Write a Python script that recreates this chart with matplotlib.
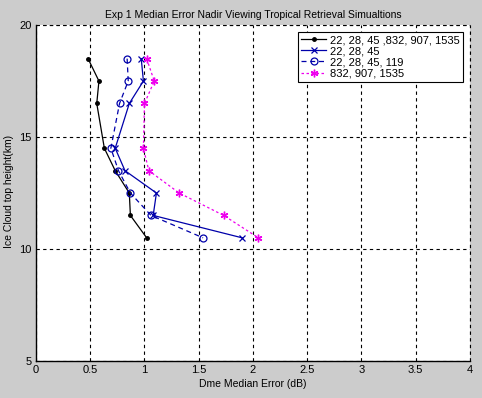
import matplotlib
matplotlib.use("Agg")
import matplotlib.pyplot as plt

plt.rcParams['font.family'] = ['Liberation Sans', 'DejaVu Sans']

# cloud top heights (km)
heights = [18.5, 17.5, 16.5, 14.5, 13.5, 12.5, 11.5, 10.5]

# Dme median error (dB) per channel set
err_all = [0.48, 0.58, 0.56, 0.63, 0.73, 0.86, 0.87, 1.02]
err_low = [0.97, 0.99, 0.86, 0.73, 0.82, 1.11, 1.08, 1.90]
err_low119 = [0.84, 0.85, 0.77, 0.69, 0.76, 0.87, 1.06, 1.54]
err_high = [1.02, 1.09, 1.00, 0.99, 1.04, 1.32, 1.73, 2.05]

labels = ['22, 28, 45 ,832, 907, 1535', '22, 28, 45', '22, 28, 45, 119', '832, 907, 1535']
x_ticks = [0, 0.5, 1, 1.5, 2, 2.5, 3, 3.5, 4]
x_ticklabels = ['0', '0.5', '1', '1.5', '2', '2.5', '3', '3.5', '4']
y_ticks = [5, 10, 15, 20]

bg = '#cccccc'
fig = plt.figure(figsize=(4.82, 3.98), dpi=100, facecolor=bg)
ax = fig.add_axes([0.0747, 0.093, 0.9003, 0.844])
ax.set_facecolor('white')

ax.plot(err_all, heights, color='black', linestyle='-', linewidth=0.9,
        marker='.', markersize=5, label=labels[0])
ax.plot(err_low, heights, color='#0000aa', linestyle='-', linewidth=0.9,
        marker='x', markersize=4.5, markeredgewidth=0.9, label=labels[1])
ax.plot(err_low119, heights, color='#0000aa', linestyle=(0, (4, 3)), linewidth=0.9,
        marker='o', markersize=5, markerfacecolor='none', markeredgewidth=0.9, label=labels[2])
ax.plot(err_high, heights, color='#ee00ee', linestyle=(0, (2, 2)), linewidth=0.9,
        marker=(6, 2, 0), markersize=5.5, markeredgewidth=1.0, label=labels[3])

ax.set_xlim(0, 4)
ax.set_ylim(5, 20)
ax.set_xticks(x_ticks)
ax.set_xticklabels(x_ticklabels)
ax.set_yticks(y_ticks)
ax.tick_params(direction='in', length=0, labelsize=8, pad=3)

ax.grid(True, color='black', linestyle=(0, (3, 3)), linewidth=0.8)
for side in ['top', 'right']:
    ax.spines[side].set_visible(False)
for side in ['left', 'bottom']:
    ax.spines[side].set_linewidth(1.0)
# dashed top/right edges like the matlab grid
ax.axhline(20, color='black', linestyle=(0, (3, 3)), linewidth=0.8, clip_on=False)
ax.axvline(4, color='black', linestyle=(0, (3, 3)), linewidth=0.8, clip_on=False)

ax.set_xlabel('Dme Median Error (dB)', fontsize=7.5, labelpad=3)
ax.set_ylabel('Ice Cloud top height(km)', fontsize=7.5)
ax.yaxis.set_label_coords(-0.051, 0.505)
ax.set_title('Exp 1 Median Error Nadir Viewing Tropical Retrieval Simualtions', fontsize=7.5, pad=5)

leg = ax.legend(loc='upper right', fontsize=8, frameon=True, fancybox=False,
                edgecolor='black', framealpha=1, borderpad=0.3, labelspacing=0.1,
                handlelength=2.2, handletextpad=0.4, borderaxespad=0.6)
leg.get_frame().set_linewidth(0.8)

plt.savefig('out.png', dpi=100, facecolor=bg)
